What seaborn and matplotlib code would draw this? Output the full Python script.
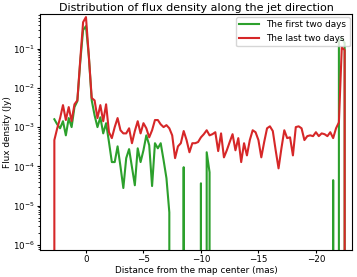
import numpy as np
import pandas as pd
import seaborn as sns
from matplotlib import pyplot as plt

# distance from map centre (mas), 0.25 mas steps
distance = np.arange(3.0, -22.76, -0.25)
xticks = [0, -5, -10, -15, -20]

# log10 of flux density (Jy); None = zero flux
first_log = [-2.80, -2.93, -3.03, -2.85, -3.21, -2.77, -3.00, -2.49, -2.34, -1.35,
             -0.53, -0.43, -1.20, -2.32, -2.70, -3.00, -2.75, -3.16, -2.90, -3.38,
             -3.89, -3.89, -3.49, -4.00, -4.55, -3.79, -3.56, -4.02, -4.48, -3.54,
             -3.89, -3.59, -3.21, -3.46, -4.50, -3.41, -3.54, -3.41, -3.84, -4.30,
             -5.17, None, None, None, None, -4.02, None, None, None, None,
             None, -4.43, None, -3.64, -4.15] + [None] * 42 + \
            [-4.35, None, -0.79, -0.74, -0.86, None]

last_log = [None, -3.33, -3.03, -2.77, -2.44, -2.82, -2.49, -2.85, -2.42, -2.32, -1.30,
            -0.33, -0.20, -1.20, -2.26, -2.32, -2.77, -2.44, -2.85, -2.42, -3.13,
            -3.28, -3.00, -2.77, -3.08, -3.16, -3.16, -3.03, -3.41, -3.10, -2.85,
            -3.16, -2.90, -3.03, -3.26, -3.08, -2.82, -2.82, -2.93, -3.00, -2.95,
            -3.03, -3.21, -3.79, -3.49, -3.41, -3.10, -3.33, -3.64, -3.41, -3.41,
            -3.38, -3.26, -3.18, -3.08, -3.21, -3.18, -3.13, -3.61, -3.16, -3.77,
            -3.59, -3.38, -3.18, -3.59, -3.28, -3.89, -3.41, -3.72, -3.33, -3.08,
            -3.13, -3.33, -3.77, -3.38, -3.03, -2.98, -3.10, -3.59, -4.05, -3.54,
            -3.08, -3.28, -3.26, -3.72, -3.00, -2.98, -3.03, -3.33, -3.23, -3.21,
            -3.23, -3.13, -3.23, -3.16, -3.18, -3.23, -3.13, -3.28, -3.03, -2.88,
            -0.97, -1.04, None]

labels = ['The first two days', 'The last two days']
colors = ['#2ca02c', '#d62728']


def to_flux(logs):
    return [0.0 if e is None else 10 ** e for e in logs]


df = pd.concat([
    pd.DataFrame({'distance': distance[1:], 'flux': to_flux(first_log), 'set': labels[0]}),
    pd.DataFrame({'distance': distance, 'flux': to_flux(last_log), 'set': labels[1]}),
])

fig = plt.figure(figsize=(3.57, 2.77), dpi=100)
ax = fig.add_axes([0.112, 0.097, 0.875, 0.852])

sns.lineplot(data=df, x='distance', y='flux', hue='set', hue_order=labels,
             palette=colors, estimator=None, linewidth=1.5, ax=ax)

ax.set_yscale('log')
ax.set_xticks(xticks)
ax.set_xlim(4.0, -23.17)
ax.set_ylim(7.4e-7, 0.75)
ax.set_xlabel('Distance from the map center (mas)', fontsize=6.4, labelpad=1.5)
ax.set_ylabel('Flux density (Jy)', fontsize=6.4, labelpad=1)
ax.set_title('Distribution of flux density along the jet direction', fontsize=8, pad=2)
ax.tick_params(labelsize=6.3, length=2, pad=1.5)
ax.tick_params(which='minor', length=1.2)
sns.move_legend(ax, 'upper right', title=None, fontsize=6.4, borderaxespad=0.3,
                handlelength=2.2)

fig.savefig('out.png', dpi=100)
